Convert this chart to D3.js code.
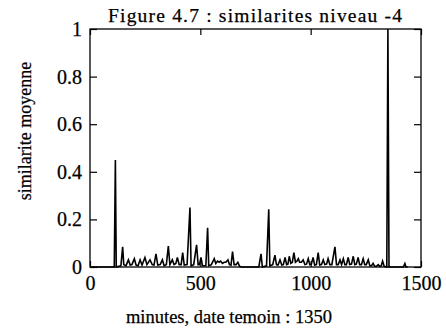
<!DOCTYPE html>
<html>
<head>
<meta charset="utf-8">
<script src="https://cdn.jsdelivr.net/npm/d3@7"></script>
<style>
  body { margin: 0; background: #fff; }
  svg text { font-family: "Liberation Serif", "Times New Roman", serif; fill: #000; stroke: #000; stroke-width: 0.25px; }
</style>
</head>
<body>
<script>
// data (minutes, mean similarity)
const minutes = [0, 110, 115, 119, 140, 148, 153, 163, 174, 182, 190, 201, 209, 218, 227, 236, 249, 258, 272, 282,
  290, 299, 307, 318, 328, 336, 346, 355, 362, 373, 381, 389, 396, 404, 413, 420, 427, 440, 453, 458,
  470, 483, 490, 496, 503, 510, 525, 533, 538, 550, 563, 570, 578, 585, 592, 600, 608, 616, 625, 632,
  639, 646, 653, 662, 670, 678, 685, 765, 775, 781, 800, 810, 815, 828, 838, 845, 852, 861, 869, 876,
  884, 891, 897, 903, 910, 917, 924, 931, 938, 944, 950, 958, 966, 974, 981, 989, 996, 1003, 1011, 1018,
  1026, 1034, 1041, 1049, 1057, 1064, 1072, 1079, 1087, 1096, 1110, 1117, 1125, 1133, 1140, 1148, 1155, 1162, 1170, 1177,
  1185, 1193, 1200, 1207, 1215, 1222, 1230, 1238, 1245, 1252, 1261, 1268, 1276, 1283, 1290, 1298, 1306, 1313, 1320, 1326,
  1333, 1345, 1350, 1355, 1420, 1427, 1432, 1440];
const similarite = [0, 0, 0.45, 0, 0.005, 0.085, 0.01, 0.005, 0.03, 0.008, 0.01, 0.035, 0.008, 0.005, 0.03, 0.008, 0.04, 0.01, 0.03, 0.01,
  0.008, 0.055, 0.008, 0.01, 0.03, 0.005, 0.01, 0.088, 0.01, 0.03, 0.01, 0.015, 0.04, 0.01, 0.01, 0.06, 0.008, 0.01, 0.25, 0.005,
  0.01, 0.093, 0.01, 0.01, 0.04, 0.005, 0.005, 0.165, 0.005, 0.01, 0.035, 0.015, 0.025, 0.02, 0.025, 0.015, 0.02, 0.02, 0.03, 0.01,
  0.008, 0.065, 0.01, 0.01, 0.02, 0.003, 0, 0, 0.055, 0, 0.005, 0.243, 0.005, 0.01, 0.05, 0.01, 0.008, 0.03, 0.008, 0.01,
  0.04, 0.01, 0.012, 0.045, 0.015, 0.02, 0.06, 0.02, 0.025, 0.035, 0.02, 0.02, 0.03, 0.01, 0.012, 0.035, 0.01, 0.012, 0.04, 0.008,
  0.01, 0.06, 0.008, 0.01, 0.03, 0.01, 0.012, 0.035, 0.01, 0.01, 0.085, 0.01, 0.01, 0.03, 0.01, 0.035, 0.01, 0.01, 0.04, 0.01,
  0.012, 0.045, 0.01, 0.012, 0.04, 0.01, 0.01, 0.035, 0.01, 0.01, 0.03, 0.005, 0.005, 0.015, 0.003, 0.003, 0.01, 0.003, 0.005, 0.025,
  0.003, 0, 1.0, 0, 0, 0.015, 0, 0];

const xTicks = [0, 500, 1000, 1500];
const yTicks = [0, 0.2, 0.4, 0.6, 0.8, 1];

const width = 446, height = 335;
const plotLeft = 90, plotRight = 421, plotTop = 29, plotBottom = 267;
const serif = "'Liberation Serif', 'Times New Roman', serif";

const svg = d3.select("body").append("svg")
    .attr("width", width)
    .attr("height", height);

const x = d3.scaleLinear().domain([0, 1500]).range([plotLeft, plotRight]);
const y = d3.scaleLinear().domain([0, 1]).range([plotBottom, plotTop]);

const fmt = d => d === 0 || d === 1 || d >= 500 ? String(d) : d3.format(".1f")(d);

// bottom axis with labels
svg.append("g")
    .attr("transform", "translate(0," + plotBottom + ")")
    .call(d3.axisBottom(x).tickValues(xTicks).tickSize(-6).tickPadding(9).tickFormat(fmt))
    .attr("font-family", serif).attr("font-size", 20)
    .call(g => g.select(".domain").remove());

// top axis, ticks only
svg.append("g")
    .attr("transform", "translate(0," + plotTop + ")")
    .call(d3.axisTop(x).tickValues(xTicks).tickSize(-6).tickFormat(""))
    .call(g => g.select(".domain").remove());

// left axis with labels
svg.append("g")
    .attr("transform", "translate(" + plotLeft + ",0)")
    .call(d3.axisLeft(y).tickValues(yTicks).tickSize(-7).tickPadding(8).tickFormat(fmt))
    .attr("font-family", serif).attr("font-size", 20)
    .call(g => g.select(".domain").remove());

// right axis, ticks only
svg.append("g")
    .attr("transform", "translate(" + plotRight + ",0)")
    .call(d3.axisRight(y).tickValues(yTicks).tickSize(-7).tickFormat(""))
    .call(g => g.select(".domain").remove());

svg.selectAll(".tick line").attr("stroke", "#000").attr("stroke-width", 1.2);

// frame
svg.append("rect")
    .attr("x", plotLeft).attr("y", plotTop)
    .attr("width", plotRight - plotLeft).attr("height", plotBottom - plotTop)
    .attr("fill", "none").attr("stroke", "#000").attr("stroke-width", 1.3);

// the series
const line = d3.line()
    .x((d, i) => x(minutes[i]))
    .y(d => y(d));

svg.append("path")
    .datum(similarite)
    .attr("d", line)
    .attr("fill", "none")
    .attr("stroke", "#000")
    .attr("stroke-width", 1.6)
    .attr("stroke-linejoin", "miter");

// title and labels
svg.append("text")
    .attr("x", 108).attr("y", 22)
    .attr("font-size", 19.5)
    .attr("textLength", 294)
    .attr("lengthAdjust", "spacing")
    .text("Figure 4.7 : similarites niveau -4");

svg.append("text")
    .attr("x", 229).attr("y", 323)
    .attr("text-anchor", "middle")
    .attr("font-size", 18.5)
    .text("minutes, date temoin : 1350");

svg.append("text")
    .attr("transform", "translate(31,131) rotate(-90)")
    .attr("text-anchor", "middle")
    .attr("font-size", 18)
    .text("similarite moyenne");
</script>
</body>
</html>
